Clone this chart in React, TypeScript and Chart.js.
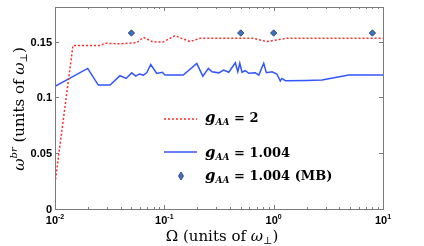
import React, { useEffect, useRef } from "react";
import { Chart, registerables } from "chart.js";

Chart.register(...registerables);

// Red dotted series (g_AA = 2)
const redOmega = [0.01, 0.0146, 0.0258, 0.0287, 0.0393, 0.0559, 0.0643, 0.0793, 0.0973, 0.125, 0.172, 0.212, 0.648, 0.865, 1.32, 10];
const redW = [0.023, 0.1465, 0.1465, 0.1485, 0.148, 0.149, 0.1538, 0.1496, 0.1496, 0.1553, 0.150, 0.153, 0.153, 0.150, 0.153, 0.153];

// Blue series (g_AA = 1.004)
const blueOmega = [0.01, 0.0199, 0.0249, 0.0319, 0.0393, 0.0447, 0.0503, 0.0548, 0.0591, 0.0643, 0.069, 0.0751, 0.0852, 0.0959, 0.1014, 0.149, 0.198, 0.225, 0.253, 0.273, 0.315, 0.349, 0.388, 0.446, 0.47, 0.49, 0.514, 0.551, 0.592, 0.68, 0.731, 0.811, 0.858, 0.967, 1.07, 1.15, 1.19, 1.28, 2.0, 2.77, 4.86, 10];
const blueW = [0.110, 0.126, 0.111, 0.111, 0.1194, 0.117, 0.122, 0.119, 0.121, 0.120, 0.122, 0.1295, 0.1214, 0.1225, 0.120, 0.120, 0.1305, 0.119, 0.126, 0.123, 0.122, 0.1245, 0.1225, 0.131, 0.123, 0.1306, 0.1225, 0.124, 0.1216, 0.122, 0.120, 0.1306, 0.1222, 0.123, 0.121, 0.1147, 0.117, 0.115, 0.1152, 0.1156, 0.120, 0.120];

// Diamond markers (g_AA = 1.004, MB)
const mbOmega = [0.05, 0.5, 1, 8];
const mbW = [0.1577, 0.1577, 0.1577, 0.1577];

const yTicks = [0, 0.05, 0.1, 0.15];
const yTickLabels = ["0", "0.05", "0.1", "0.15"];
const xMajor = [0.01, 0.1, 1, 10];
const xExp = ["-2", "-1", "0", "1"];

const legendLabels = ["= 2", "= 1.004", "= 1.004 (MB)"];

const RED = "#ff2a2a";
const BLUE = "#3355ff";
const DFILL = "#3d72c4";
const DEDGE = "#1f3766";

type Seg = { t: string; f: string; dy?: number };

function richWidth(ctx: CanvasRenderingContext2D, segs: Seg[]) {
  let w = 0;
  for (const s of segs) {
    ctx.font = s.f;
    w += ctx.measureText(s.t).width;
  }
  return w;
}

function drawRich(ctx: CanvasRenderingContext2D, segs: Seg[], x: number, y: number, align: "left" | "center" | "right") {
  const w = richWidth(ctx, segs);
  let cx = align === "left" ? x : align === "center" ? x - w / 2 : x - w;
  ctx.textAlign = "left";
  ctx.textBaseline = "alphabetic";
  for (const s of segs) {
    ctx.font = s.f;
    ctx.fillText(s.t, cx, y + (s.dy || 0));
    cx += ctx.measureText(s.t).width;
  }
}

const SERIF = '"DejaVu Serif", "Liberation Serif", serif';
const SANS = '"Liberation Sans", Arial, sans-serif';

const decorPlugin = {
  id: "decor",
  afterDraw(chart: any) {
    const ctx: CanvasRenderingContext2D = chart.ctx;
    const { left, right, top, bottom } = chart.chartArea;
    const xs = chart.scales.x;
    const ys = chart.scales.y;
    ctx.save();
    // frame
    ctx.strokeStyle = "#7a7a7a";
    ctx.lineWidth = 1;
    ctx.strokeRect(Math.round(left) + 0.5, Math.round(top) + 0.5, Math.round(right - left), Math.round(bottom - top));
    // x ticks
    ctx.beginPath();
    for (let e = -2; e <= 0; e++) {
      for (let m = 1; m <= 9; m++) {
        const v = m * Math.pow(10, e);
        const px = Math.round(xs.getPixelForValue(v)) + 0.5;
        const len = m === 1 ? 4 : 2;
        ctx.moveTo(px, bottom);
        ctx.lineTo(px, bottom - len);
        ctx.moveTo(px, top);
        ctx.lineTo(px, top + len);
      }
    }
    // y ticks
    for (const v of yTicks) {
      const py = Math.round(ys.getPixelForValue(v)) + 0.5;
      ctx.moveTo(left, py);
      ctx.lineTo(left + 4, py);
      ctx.moveTo(right, py);
      ctx.lineTo(right - 4, py);
    }
    ctx.stroke();

    // tick labels
    ctx.fillStyle = "#000";
    xMajor.forEach((v, i) => {
      const px = xs.getPixelForValue(v);
      ctx.font = `bold 11px ${SANS}`;
      const w1 = ctx.measureText("10").width;
      ctx.font = `bold 7px ${SANS}`;
      const w2 = ctx.measureText(xExp[i]).width;
      const sx = px - (w1 + w2) / 2;
      ctx.textAlign = "left";
      ctx.textBaseline = "alphabetic";
      ctx.font = `bold 11px ${SANS}`;
      ctx.fillText("10", sx, 224);
      ctx.font = `bold 7px ${SANS}`;
      ctx.fillText(xExp[i], sx + w1, 219);
    });
    yTicks.forEach((v, i) => {
      const py = ys.getPixelForValue(v);
      ctx.font = `bold 11px ${SANS}`;
      ctx.textAlign = "right";
      ctx.textBaseline = "middle";
      ctx.fillText(yTickLabels[i], 52, py + 1);
    });

    // x axis title
    drawRich(ctx, [
      { t: "Ω", f: `15px ${SERIF}` },
      { t: " (units of ", f: `15px ${SERIF}` },
      { t: "ω", f: `italic 15px ${SERIF}` },
      { t: "⊥", f: `10px ${SERIF}`, dy: 3 },
      { t: ")", f: `15px ${SERIF}` },
    ], 222, 241, "center");

    // y axis title
    ctx.save();
    ctx.translate(24, 109);
    ctx.rotate(-Math.PI / 2);
    drawRich(ctx, [
      { t: "ω", f: `italic 15px ${SERIF}` },
      { t: "br", f: `italic 10px ${SERIF}`, dy: -7 },
      { t: " (units of ", f: `15px ${SERIF}` },
      { t: "ω", f: `italic 15px ${SERIF}` },
      { t: "⊥", f: `10px ${SERIF}`, dy: 3 },
      { t: ")", f: `15px ${SERIF}` },
    ], 0, 0, "center");
    ctx.restore();

    // legend
    ctx.lineWidth = 1.5;
    ctx.strokeStyle = RED;
    ctx.setLineDash([2, 2]);
    ctx.beginPath();
    ctx.moveTo(164, 119);
    ctx.lineTo(197, 119);
    ctx.stroke();
    ctx.setLineDash([]);
    ctx.strokeStyle = BLUE;
    ctx.beginPath();
    ctx.moveTo(164, 152);
    ctx.lineTo(197, 152);
    ctx.stroke();
    // diamond
    ctx.fillStyle = DFILL;
    ctx.strokeStyle = DEDGE;
    ctx.lineWidth = 0.8;
    ctx.beginPath();
    ctx.moveTo(181, 172);
    ctx.lineTo(183.5, 176);
    ctx.lineTo(181, 180);
    ctx.lineTo(178.5, 176);
    ctx.closePath();
    ctx.fill();
    ctx.stroke();

    ctx.fillStyle = "#000";
    const ly = [122, 157, 180];
    legendLabels.forEach((lab, i) => {
      drawRich(ctx, [
        { t: "g", f: `bold italic 15px ${SERIF}` },
        { t: "AA", f: `bold italic 9px ${SERIF}`, dy: 3 },
        { t: " " + lab, f: `bold 13px ${SERIF}` },
      ], 205, ly[i], "left");
    });
    ctx.restore();
  },
};

export default function App() {
  const ref = useRef<HTMLCanvasElement | null>(null);
  useEffect(() => {
    if (!ref.current) return;
    const chart = new Chart(ref.current, {
      type: "scatter",
      data: {
        datasets: [
          {
            data: redOmega.map((x, i) => ({ x, y: redW[i] })),
            showLine: true,
            borderColor: RED,
            borderWidth: 1.5,
            borderDash: [2, 2],
            pointRadius: 0,
            tension: 0,
          },
          {
            data: blueOmega.map((x, i) => ({ x, y: blueW[i] })),
            showLine: true,
            borderColor: BLUE,
            borderWidth: 1.5,
            pointRadius: 0,
            tension: 0,
          },
          {
            data: mbOmega.map((x, i) => ({ x, y: mbW[i] })),
            showLine: false,
            pointStyle: "rectRot",
            pointRadius: 3.2,
            backgroundColor: DFILL,
            borderColor: DEDGE,
            borderWidth: 0.8,
          },
        ],
      },
      options: {
        animation: false,
        responsive: false,
        layout: { padding: { left: 55, right: 41, top: 7, bottom: 37 } },
        plugins: { legend: { display: false }, tooltip: { enabled: false } },
        scales: {
          x: { type: "logarithmic", min: 0.01, max: 10, display: false },
          y: { type: "linear", min: 0, max: 0.181, display: false },
        },
      },
      plugins: [decorPlugin],
    });
    return () => chart.destroy();
  }, []);
  return (
    <div style={{ position: "absolute", left: 0, top: 0, width: 424, height: 246, background: "#fff" }}>
      <canvas ref={ref} width={424} height={246} style={{ display: "block", width: 424, height: 246 }} />
    </div>
  );
}
